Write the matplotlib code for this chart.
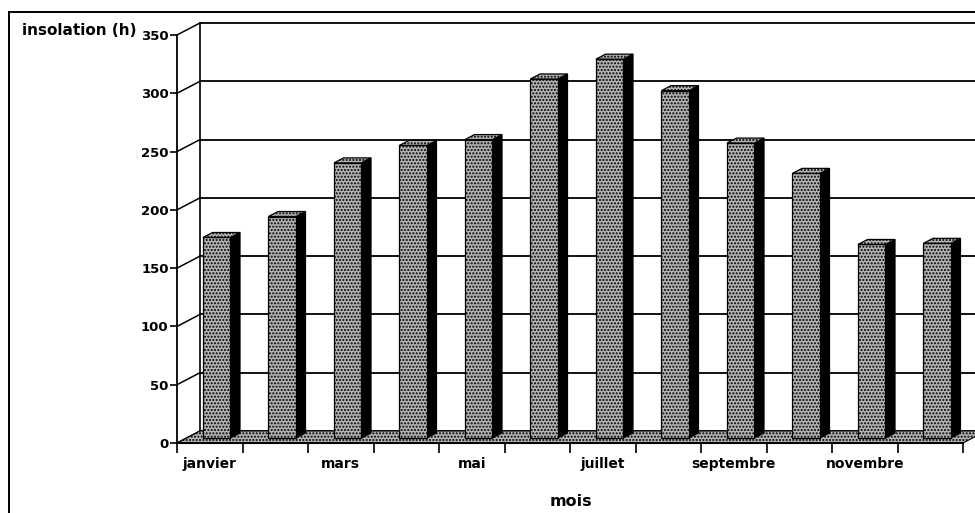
import matplotlib
matplotlib.use('Agg')
import matplotlib.pyplot as plt
from matplotlib.patches import Polygon
from matplotlib.lines import Line2D

# ---- data ----
months = ['janvier', 'février', 'mars', 'avril', 'mai', 'juin', 'juillet',
          'août', 'septembre', 'octobre', 'novembre', 'décembre']
sunshine = [172, 190, 236, 251, 256, 308, 325, 298, 253, 227, 166, 167]
yticks = [0, 50, 100, 150, 200, 250, 300, 350]
ylabel = 'insolation (h)'
xlabel = 'mois'

# ---- layout (pixels) ----
W, H = 975, 513
fx0, fx1, fy0, fy1 = 177, 963, 443, 35      # front plane
back_dx_px, back_dy_px = 23, 12             # depth offset of back wall

fig = plt.figure(figsize=(W / 100, H / 100), dpi=100)
ax = fig.add_axes([fx0 / W, 1 - fy0 / H, (fx1 - fx0) / W, (fy0 - fy1) / H])
n = len(months)
ymax = yticks[-1]
ax.set_xlim(0, n)
ax.set_ylim(0, ymax)

ux = n / (fx1 - fx0)           # data units per pixel (x)
uy = ymax / (fy0 - fy1)        # data units per pixel (y)
ddx, ddy = back_dx_px * ux, back_dy_px * uy

FONT = 'DejaVu Sans'
stipple_face = '#b4b4b4'
stipple = '.....'

# floor
floor = Polygon([(0, 0), (n, 0), (n + ddx, ddy), (ddx, ddy)], closed=True,
                facecolor=stipple_face, edgecolor='black', hatch=stipple,
                lw=0.8, clip_on=False, zorder=1)
ax.add_patch(floor)

# back wall gridlines & diagonal connectors
for v in yticks:
    ax.plot([ddx, n + 2 * ddx], [v + ddy, v + ddy], color='black', lw=1.3,
            clip_on=False, zorder=0.5)
    ax.plot([0, ddx], [v, v + ddy], color='black', lw=1.1, clip_on=False, zorder=0.6)
ax.plot([ddx, ddx], [ddy, ymax + ddy], color='black', lw=1.2, clip_on=False, zorder=0.6)

# bars (3D look)
f0, f1 = 5 / 12, 10 / 12     # bar front / back depth fraction
cen, bw = 0.46, 0.42
xs = [i + cen - bw / 2 + f0 * ddx for i in range(n)]
bars = ax.bar(xs, sunshine, width=bw, bottom=f0 * ddy, align='edge',
              color=stipple_face, edgecolor='black', hatch=stipple, lw=0.9,
              zorder=3, clip_on=False)
sdx, sdy = (f1 - f0) * ddx, (f1 - f0) * ddy
for x, v in zip(xs, sunshine):
    b = f0 * ddy
    side = Polygon([(x + bw, b), (x + bw + sdx, b + sdy),
                    (x + bw + sdx, b + v + sdy), (x + bw, b + v)],
                   closed=True, facecolor='black', edgecolor='black', lw=0.8,
                   zorder=2.9, clip_on=False)
    top = Polygon([(x, b + v), (x + bw, b + v), (x + bw + sdx, b + v + sdy),
                   (x + sdx, b + v + sdy)], closed=True, facecolor=stipple_face,
                  edgecolor='black', hatch=stipple, lw=0.9, zorder=3.1, clip_on=False)
    ax.add_patch(side)
    ax.add_patch(top)

# axes styling
for s in ['top', 'right']:
    ax.spines[s].set_visible(False)
ax.spines['left'].set_linewidth(1.3)
ax.spines['bottom'].set_linewidth(1.5)
ax.spines['left'].set_zorder(4)
ax.spines['bottom'].set_zorder(4)
ax.set_yticks(yticks)
ax.set_yticklabels([str(v) for v in yticks], fontfamily=FONT, fontweight='bold',
                   fontsize=9.5)
ax.tick_params(axis='y', direction='out', length=5, width=1.2, pad=1)

ax.set_xticks(range(n + 1))
ax.set_xticklabels([])
ax.tick_params(axis='x', which='major', direction='out', length=7, width=1.2)
ax.set_xticks([i + 0.5 for i in range(n)], minor=True)
ax.set_xticklabels([m if i % 2 == 0 else '' for i, m in enumerate(months)],
                   minor=True, fontfamily=FONT, fontweight='bold', fontsize=10)
ax.tick_params(axis='x', which='minor', length=0, pad=10)
ax.set_facecolor('none')

# titles
fig.text(137 / W, 1 - 31 / H, ylabel, ha='right', va='center', fontfamily=FONT,
         fontweight='bold', fontsize=11)
fig.text(571 / W, 1 - 501 / H, xlabel, ha='center', va='center', fontfamily=FONT,
         fontweight='bold', fontsize=11.5)

# outer frame (scan border)
fig.add_artist(Line2D([9 / W, 9 / W], [0, 1 - 12 / H], color='black', lw=1.4,
                      transform=fig.transFigure))
fig.add_artist(Line2D([9 / W, 1], [1 - 12 / H, 1 - 12 / H], color='black', lw=1.4,
                      transform=fig.transFigure))

fig.savefig('out.png', dpi=100)
